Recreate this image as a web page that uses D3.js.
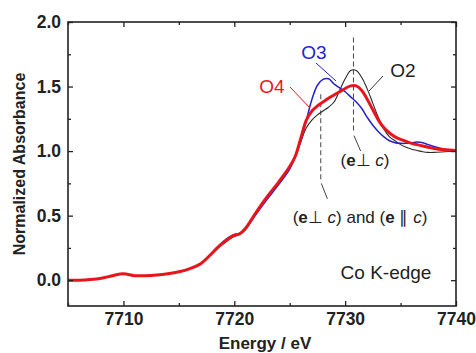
<!DOCTYPE html>
<html><head><meta charset="utf-8">
<script src="https://cdn.jsdelivr.net/npm/d3@7"></script>
<style>body{margin:0;background:#fff}svg{display:block}</style>
</head><body>
<script>
const energy = [7705,7706,7707,7708,7709,7710,7711,7712,7713,7714,7715,7716,7717,7718,7718.7,7719.3,7719.9,7720.5,7721,7722,7723,7724,7725,
  7725.5,7726,7726.5,7727,7727.5,7728,7728.5,7729,7729.5,7730,7730.5,7731,7731.5,7732,7732.5,7733,7733.5,7734,7734.5,7735,7735.5,7736,7736.5,7737,7737.5,7738,7739,7740];
const O2 = [0,0,0.005,0.015,0.035,0.05,0.035,0.035,0.04,0.05,0.065,0.09,0.13,0.21,0.26,0.30,0.335,0.355,0.39,0.52,0.64,0.75,0.87,
  0.95,1.07,1.18,1.24,1.28,1.31,1.34,1.38,1.47,1.56,1.625,1.625,1.57,1.48,1.37,1.26,1.17,1.11,1.08,1.05,1.03,1.015,1.005,0.995,0.99,0.99,0.995,1.0];
const O3 = [0,0,0.005,0.015,0.035,0.05,0.035,0.035,0.04,0.05,0.065,0.09,0.13,0.21,0.275,0.32,0.35,0.365,0.395,0.515,0.63,0.74,0.86,
  0.96,1.08,1.24,1.40,1.51,1.555,1.56,1.52,1.49,1.46,1.42,1.38,1.33,1.26,1.20,1.15,1.11,1.08,1.065,1.06,1.06,1.065,1.07,1.065,1.05,1.035,1.015,1.005];
const O4 = [0,0,0.005,0.015,0.035,0.05,0.035,0.035,0.04,0.05,0.065,0.09,0.13,0.21,0.27,0.31,0.345,0.36,0.40,0.53,0.65,0.76,0.88,
  0.96,1.10,1.24,1.31,1.35,1.38,1.41,1.435,1.46,1.485,1.505,1.505,1.47,1.40,1.32,1.24,1.18,1.14,1.11,1.09,1.075,1.06,1.05,1.04,1.03,1.02,1.01,1.005];
const xTicks = [7710,7720,7730,7740];
const xMinor = [7705,7715,7725,7735];
const yTicks = [0.0,0.5,1.0,1.5,2.0];
const yMinor = [-0.25,0.25,0.75,1.25,1.75];

const W=476,H=353, L=68,R=456,T=22,B=306;
const svg=d3.select("body").append("svg").attr("width",W).attr("height",H);
const x=d3.scaleLinear().domain([7705,7740]).range([L,R]);
const y=d3.scaleLinear().domain([-0.2,2.0]).range([B,T]);
const font="Arial, 'Liberation Sans', sans-serif";

// dashed guide lines
const g=svg.append("g").attr("stroke","#444").attr("stroke-width",1).attr("fill","none");
g.append("line").attr("x1",x(7727.8)).attr("x2",x(7727.8)).attr("y1",y(1.44)).attr("y2",y(0.78)).attr("stroke-dasharray","5,3");
g.append("line").attr("x1",x(7727.85)).attr("x2",x(7728.4)).attr("y1",y(0.75)).attr("y2",y(0.63));
g.append("line").attr("x1",x(7730.75)).attr("x2",x(7730.75)).attr("y1",y(1.88)).attr("y2",y(1.15)).attr("stroke-dasharray","5,3");
g.append("line").attr("x1",x(7730.8)).attr("x2",x(7731.4)).attr("y1",y(1.12)).attr("y2",y(1.0));

const series=[{d:O2,c:"#2a2a2a",w:1.1},{d:O3,c:"#2323c8",w:1.5},{d:O4,c:"#e8161c",w:3}];
const line=d3.line().x((d,i)=>x(energy[i])).y(d=>y(d)).curve(d3.curveCatmullRom.alpha(0.5));
svg.append("g").selectAll("path").data(series).join("path")
  .attr("d",s=>line(s.d)).attr("fill","none").attr("stroke",s=>s.c).attr("stroke-width",s=>s.w)
  .attr("stroke-linejoin","round");

// frame + axes
const ax=svg.append("g").attr("font-family",font);
ax.append("g").attr("transform",`translate(0,${B})`).call(d3.axisBottom(x).tickValues(xTicks).tickFormat(d3.format("d")).tickSizeInner(-5).tickSizeOuter(0).tickPadding(7));
ax.append("g").attr("transform",`translate(0,${B})`).call(d3.axisBottom(x).tickValues(xMinor).tickFormat("").tickSizeInner(-3).tickSizeOuter(0));
ax.append("g").attr("transform",`translate(0,${T})`).call(d3.axisTop(x).tickValues(xTicks).tickFormat("").tickSizeInner(-5).tickSizeOuter(0));
ax.append("g").attr("transform",`translate(0,${T})`).call(d3.axisTop(x).tickValues(xMinor).tickFormat("").tickSizeInner(-3).tickSizeOuter(0));
ax.append("g").attr("transform",`translate(${L},0)`).call(d3.axisLeft(y).tickValues(yTicks).tickFormat(d3.format(".1f")).tickSizeInner(-5).tickSizeOuter(0).tickPadding(7));
ax.append("g").attr("transform",`translate(${L},0)`).call(d3.axisLeft(y).tickValues(yMinor.filter(v=>v>-0.2)).tickFormat("").tickSizeInner(-3).tickSizeOuter(0));
ax.append("g").attr("transform",`translate(${R},0)`).call(d3.axisRight(y).tickValues(yTicks).tickFormat("").tickSizeInner(-5).tickSizeOuter(0));
ax.append("g").attr("transform",`translate(${R},0)`).call(d3.axisRight(y).tickValues(yMinor.filter(v=>v>-0.2)).tickFormat("").tickSizeInner(-3).tickSizeOuter(0));
ax.selectAll(".domain").remove();
ax.selectAll("line").attr("stroke","#222").attr("stroke-width",1.3);
ax.selectAll("text").attr("font-size",17.5).attr("font-weight","bold").attr("fill","#222").attr("font-family",font);
svg.append("rect").attr("x",L).attr("y",T).attr("width",R-L).attr("height",B-T).attr("fill","none").attr("stroke","#222").attr("stroke-width",1.6);

svg.append("text").attr("x",(L+R)/2+3).attr("y",349).attr("text-anchor","middle").attr("font-family",font)
  .attr("font-weight","bold").attr("font-size",17).attr("fill","#222").text("Energy / eV");
svg.append("text").attr("transform",`translate(25,${(T+B)/2}) rotate(-90)`).attr("text-anchor","middle").attr("font-family",font)
  .attr("font-weight","bold").attr("font-size",16).attr("fill","#222").text("Normalized Absorbance");

// labels
const lab=(t,px,py,c,fs)=>svg.append("text").attr("x",px).attr("y",py).attr("text-anchor","middle").attr("font-family",font).attr("font-size",fs).attr("fill",c).text(t);
lab("O3",314,59,"#2323c8",19);
lab("O2",403,77,"#222",19);
lab("O4",272,93,"#e8161c",19);
lab("Co K-edge",386,279,"#222",19);
const lk=svg.append("g").attr("fill","none").attr("stroke-width",1);
lk.append("line").attr("x1",316).attr("y1",63).attr("x2",336).attr("y2",81).attr("stroke","#2323c8");
lk.append("line").attr("x1",383).attr("y1",76).attr("x2",369).attr("y2",91).attr("stroke","#333");
lk.append("line").attr("x1",290).attr("y1",87).attr("x2",310).attr("y2",108).attr("stroke","#e8161c");

function pol(px,py,parts){
  const t=svg.append("text").attr("x",px).attr("y",py).attr("text-anchor","middle").attr("font-family",font).attr("font-size",17).attr("fill","#222");
  parts.forEach(p=>{const s=t.append("tspan").text(p[0]); if(p[1]==="b")s.attr("font-weight","bold"); if(p[1]==="i")s.attr("font-style","italic");});
}
pol(365,166,[["(",""],["e","b"],["⊥ ",""],["c","i"],[")",""]]);
pol(360,223,[["(",""],["e","b"],["⊥ ",""],["c","i"],[") and (",""],["e","b"],[" ∥ ",""],["c","i"],[")",""]]);
</script>
</body></html>
